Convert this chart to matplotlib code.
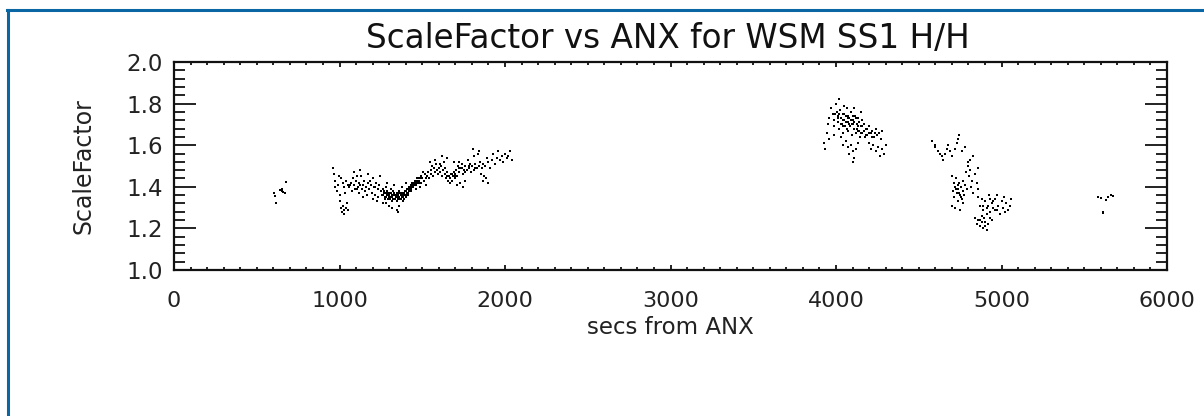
import matplotlib
matplotlib.use("Agg")
import matplotlib.pyplot as plt
from matplotlib.ticker import MultipleLocator
from matplotlib.lines import Line2D

# ---- data ----
c1_x = [677, 640, 660, 671, 604, 608, 616, 651, 655]
c1_y = [1.422, 1.385, 1.376, 1.369, 1.372, 1.356, 1.321, 1.388, 1.380]

c2_x = [960, 965, 975, 970, 985, 990, 1000, 1005, 1010, 1015, 1020, 1025, 1030, 1040, 1045, 1050,
        995, 1010, 1020, 1030, 1040, 1050, 1035,
        1060, 1070, 1075, 1080, 1090, 1095, 1100, 1110, 1115, 1120, 1130, 1135, 1140, 1150, 1155, 1160,
        1170, 1175, 1180, 1190, 1195, 1200, 1210, 1215, 1220, 1230, 1235, 1240, 1250, 1245, 1085, 1125,
        1165, 1205, 1225, 1145, 1260, 1255,
        1265, 1270, 1275, 1280, 1285, 1290, 1295, 1300, 1305, 1310, 1315, 1320, 1325, 1330, 1335, 1340,
        1345, 1350, 1355, 1360, 1365, 1370, 1375, 1380, 1385, 1390, 1395, 1400, 1405, 1410, 1415, 1420,
        1425, 1430, 1435, 1440, 1445, 1450, 1300, 1320, 1345, 1360, 1290, 1330, 1375, 1400, 1355, 1280,
        1455, 1460, 1470, 1475, 1480, 1490, 1495, 1500, 1510, 1515, 1520, 1530, 1535, 1540, 1550, 1555,
        1560, 1565, 1570, 1580, 1585, 1590, 1595, 1600, 1465, 1485, 1505, 1525, 1545, 1575,
        1605, 1610, 1615, 1620, 1625, 1630, 1635, 1640, 1645, 1650, 1655, 1660, 1665, 1670, 1675, 1680,
        1685, 1690, 1695, 1700, 1705, 1710, 1715, 1720, 1725, 1730, 1740, 1745, 1750, 1620, 1650, 1690,
        1710, 1730, 1745, 1760,
        1760, 1770, 1775, 1780, 1790, 1795, 1800, 1810, 1815, 1820, 1830, 1835, 1840, 1850, 1855, 1860,
        1870, 1875, 1880, 1890, 1900, 1910, 1920, 1930, 1940, 1950, 1960, 1970, 1980, 1990, 2000, 2010,
        2020, 2030, 2040, 1865, 1885, 1895, 1805, 1840,
        1262, 1268, 1272, 1278, 1282, 1288, 1292, 1298, 1302, 1308, 1312, 1318, 1322, 1328, 1332, 1338,
        1342, 1348, 1352, 1358, 1362, 1368, 1372, 1378, 1382, 1388, 1392, 1398, 1402, 1408, 1412, 1418,
        1422, 1428, 1432, 1438, 1442, 1448, 1452, 1458, 1462, 1468, 1472, 1478, 1482, 1488,
        1065, 1105, 1125, 1185, 1215, 1105, 1650, 1665, 1680, 1700, 1720, 1740, 1760, 1780, 1820]
c2_y = [1.49, 1.46, 1.43, 1.40, 1.38, 1.41, 1.36, 1.33, 1.30, 1.28, 1.31, 1.29, 1.27, 1.30, 1.32, 1.29,
        1.45, 1.44, 1.42, 1.40, 1.43, 1.41, 1.37,
        1.40, 1.42, 1.38, 1.44, 1.41, 1.39, 1.43, 1.40, 1.37, 1.42, 1.45, 1.39, 1.41, 1.43, 1.38, 1.40,
        1.46, 1.42, 1.39, 1.41, 1.37, 1.44, 1.40, 1.36, 1.42, 1.39, 1.35, 1.41, 1.38, 1.45, 1.47, 1.48,
        1.36, 1.34, 1.33, 1.35, 1.32, 1.36,
        1.39, 1.37, 1.35, 1.40, 1.36, 1.38, 1.34, 1.37, 1.35, 1.39, 1.33, 1.36, 1.38, 1.34, 1.36, 1.35,
        1.37, 1.33, 1.36, 1.38, 1.34, 1.36, 1.35, 1.37, 1.33, 1.36, 1.38, 1.35, 1.37, 1.39, 1.36, 1.40,
        1.38, 1.41, 1.39, 1.42, 1.40, 1.41, 1.31, 1.30, 1.29, 1.31, 1.42, 1.41, 1.40, 1.42, 1.28, 1.32,
        1.43, 1.41, 1.44, 1.42, 1.43, 1.45, 1.42, 1.44, 1.43, 1.46, 1.44, 1.45, 1.47, 1.44, 1.46, 1.48,
        1.50, 1.45, 1.49, 1.47, 1.51, 1.48, 1.46, 1.49, 1.39, 1.40, 1.47, 1.41, 1.52, 1.53,
        1.51, 1.47, 1.50, 1.45, 1.48, 1.52, 1.46, 1.49, 1.44, 1.47, 1.43, 1.45, 1.42, 1.44, 1.46, 1.43,
        1.45, 1.47, 1.44, 1.46, 1.48, 1.45, 1.50, 1.47, 1.52, 1.49, 1.51, 1.46, 1.48, 1.55, 1.54, 1.52,
        1.41, 1.42, 1.40, 1.43,
        1.50, 1.48, 1.53, 1.49, 1.51, 1.47, 1.50, 1.48, 1.55, 1.51, 1.49, 1.56, 1.50, 1.52, 1.46, 1.49,
        1.51, 1.45, 1.50, 1.54, 1.52, 1.49, 1.53, 1.56, 1.51, 1.54, 1.57, 1.53, 1.55, 1.52, 1.56, 1.54,
        1.55, 1.57, 1.53, 1.43, 1.44, 1.42, 1.58, 1.57,
        1.36, 1.38, 1.34, 1.37, 1.35, 1.36, 1.37, 1.35, 1.36, 1.34, 1.37, 1.35, 1.34, 1.36, 1.37, 1.34,
        1.36, 1.35, 1.34, 1.37, 1.35, 1.37, 1.34, 1.36, 1.35, 1.37, 1.34, 1.36, 1.38, 1.36, 1.37, 1.38,
        1.39, 1.40, 1.38, 1.40, 1.41, 1.42, 1.41, 1.42, 1.43, 1.42, 1.43, 1.44, 1.42, 1.44,
        1.41, 1.39, 1.41, 1.43, 1.40, 1.45, 1.45, 1.44, 1.46, 1.45, 1.49, 1.49, 1.47, 1.50, 1.49]

c3_x = [3930, 3935, 3945, 3950, 3960, 3955, 3970, 3980, 3985, 3990, 4000, 4005, 4010, 4015, 4020, 4025,
        4030, 4035, 4040, 4045, 4050, 4055, 4060, 4065, 4070, 4075, 4080, 4085, 4090, 4095, 4100, 4105,
        4110, 4115, 4120, 4125, 4130, 4135, 4140, 4145, 4150, 4155, 4160, 4170, 4175, 4180, 4190, 4200,
        4210, 4220, 4230, 4240, 4250, 4260, 4270, 4280, 4060, 4070, 4080, 4090, 4100, 4110, 4120, 4130,
        4105, 4040, 4200, 4210, 4225, 4240, 4255, 4265, 4280, 4290, 4300, 4050, 4110, 4150, 4030, 3990,
        4020,
        4010, 4020, 4030, 4040, 4050, 4060, 4070, 4080, 4090, 4100, 4110, 4120, 4130, 4140, 4150, 4160,
        4170, 4180, 4190, 4200, 4215, 4235, 4075, 4095, 4125, 4045, 3995, 4065]
c3_y = [1.61, 1.58, 1.66, 1.70, 1.73, 1.63, 1.78, 1.75, 1.69, 1.72, 1.80, 1.76, 1.71, 1.74, 1.68, 1.77,
        1.73, 1.70, 1.75, 1.66, 1.72, 1.69, 1.74, 1.78, 1.71, 1.67, 1.73, 1.69, 1.76, 1.65, 1.70, 1.72,
        1.68, 1.74, 1.66, 1.70, 1.73, 1.67, 1.71, 1.64, 1.69, 1.72, 1.66, 1.70, 1.64, 1.68, 1.65, 1.69,
        1.66, 1.67, 1.64, 1.68, 1.65, 1.66, 1.63, 1.67, 1.62, 1.59, 1.56, 1.60, 1.57, 1.54, 1.58, 1.61,
        1.52, 1.60, 1.61, 1.58, 1.60, 1.57, 1.59, 1.55, 1.58, 1.56, 1.60, 1.79, 1.78, 1.76, 1.64, 1.65,
        1.82,
        1.73, 1.75, 1.70, 1.72, 1.75, 1.71, 1.74, 1.70, 1.72, 1.74, 1.71, 1.73, 1.69, 1.67, 1.66, 1.69,
        1.67, 1.65, 1.68, 1.66, 1.64, 1.66, 1.73, 1.70, 1.68, 1.69, 1.75, 1.68]

c4_x = [4580, 4598, 4618, 4628, 4639, 4648, 4669, 4679, 4699, 4719, 4729, 4739, 4745, 4760, 4779, 4600,
        4660, 4690,
        4700, 4710, 4705, 4715, 4720, 4725, 4730, 4735, 4740, 4745, 4750, 4755, 4760, 4765, 4770, 4775,
        4780, 4785, 4790, 4795, 4800, 4805, 4810, 4815, 4820, 4830, 4840, 4850, 4860, 4855, 4825, 4810,
        4720, 4700, 4750, 4765,
        4860, 4870, 4880, 4890, 4900, 4910, 4920, 4925, 4930, 4940, 4950, 4960, 4970, 4980, 4990, 5000,
        5010, 5020, 5030, 5040, 5050, 5060, 4975, 5015,
        4840, 4850, 4860, 4870, 4880, 4890, 4900, 4910, 4920, 4895, 4930, 4945,
        4725, 4735, 4745, 4755, 4890, 4910, 4930, 4950, 4960, 4900, 4880, 4870]
c4_y = [1.62, 1.59, 1.57, 1.56, 1.55, 1.53, 1.58, 1.60, 1.55, 1.58, 1.61, 1.63, 1.65, 1.57, 1.59, 1.60,
        1.56, 1.57,
        1.45, 1.42, 1.38, 1.35, 1.40, 1.44, 1.37, 1.33, 1.39, 1.42, 1.36, 1.40, 1.34, 1.38, 1.43, 1.36,
        1.41, 1.47, 1.39, 1.50, 1.52, 1.45, 1.48, 1.40, 1.43, 1.37, 1.46, 1.42, 1.39, 1.49, 1.55, 1.53,
        1.30, 1.31, 1.29, 1.32,
        1.35, 1.31, 1.34, 1.29, 1.33, 1.27, 1.31, 1.36, 1.28, 1.32, 1.30, 1.34, 1.29, 1.31, 1.27, 1.33,
        1.30, 1.28, 1.32, 1.29, 1.31, 1.34, 1.36, 1.35,
        1.25, 1.22, 1.24, 1.21, 1.26, 1.20, 1.23, 1.19, 1.22, 1.25, 1.25, 1.24,
        1.39, 1.41, 1.37, 1.35, 1.31, 1.30, 1.34, 1.33, 1.29, 1.21, 1.23, 1.24]

c5_x = [5585, 5600, 5631, 5645, 5660, 5672, 5612, 5616]
c5_y = [1.349, 1.345, 1.337, 1.352, 1.361, 1.356, 1.272, 1.280]

x_ticks = [0, 1000, 2000, 3000, 4000, 5000, 6000]
y_ticks = [1.0, 1.2, 1.4, 1.6, 1.8, 2.0]
y_tick_labels = ["1.0", "1.2", "1.4", "1.6", "1.8", "2.0"]

title = "ScaleFactor vs ANX for WSM SS1 H/H"
xlabel = "secs from ANX"
ylabel = "ScaleFactor"

# ---- figure ----
W, H = 1204, 416
fig = plt.figure(figsize=(W / 100, H / 100), dpi=100)
fig.patch.set_facecolor("white")

ax = fig.add_axes([174 / W, (H - 270) / H, (1167 - 174) / W, (270 - 62) / H])

for xs, ys in [(c1_x, c1_y), (c2_x, c2_y), (c3_x, c3_y), (c4_x, c4_y), (c5_x, c5_y)]:
    ax.scatter(xs, ys, s=4.5, marker="s", color="black", linewidths=0)

ax.set_xlim(0, 6000)
ax.set_ylim(1.0, 2.0)
ax.set_xticks(x_ticks)
ax.set_xticklabels([str(t) for t in x_ticks])
ax.set_yticks(y_ticks)
ax.set_yticklabels(y_tick_labels)
ax.xaxis.set_minor_locator(MultipleLocator(100))
ax.yaxis.set_minor_locator(MultipleLocator(0.04))

for sp in ax.spines.values():
    sp.set_linewidth(1.6)
    sp.set_color("#111111")

ax.tick_params(axis="both", which="both", direction="in", top=True, right=True,
               color="#111111", width=1.3)
ax.tick_params(axis="y", which="major", length=15.5, labelsize=16.5, pad=8)
ax.tick_params(axis="y", which="minor", length=8)
ax.tick_params(axis="x", which="major", length=3.8, labelsize=16, pad=15)
ax.tick_params(axis="x", which="minor", length=2.2)
ax.tick_params(labelcolor="#222222")

ax.set_xlabel(xlabel, fontsize=16.5, labelpad=4, color="#222222")
ax.set_ylabel(ylabel, fontsize=17, labelpad=22, color="#222222")

fig.text(668 / W, 1 - 48 / H, title, ha="center", va="baseline", fontsize=23.5, color="#111111")

# blue frame (top and left edges visible)
blue = "#0b67a3"
fig.add_artist(Line2D([7 / W, 1.0], [1 - 10 / H, 1 - 10 / H], transform=fig.transFigure,
                      color=blue, linewidth=2.2))
fig.add_artist(Line2D([8 / W, 8 / W], [1 - 10 / H, 0.0], transform=fig.transFigure,
                      color=blue, linewidth=2.2))

fig.savefig("out.png", dpi=100, facecolor="white")
